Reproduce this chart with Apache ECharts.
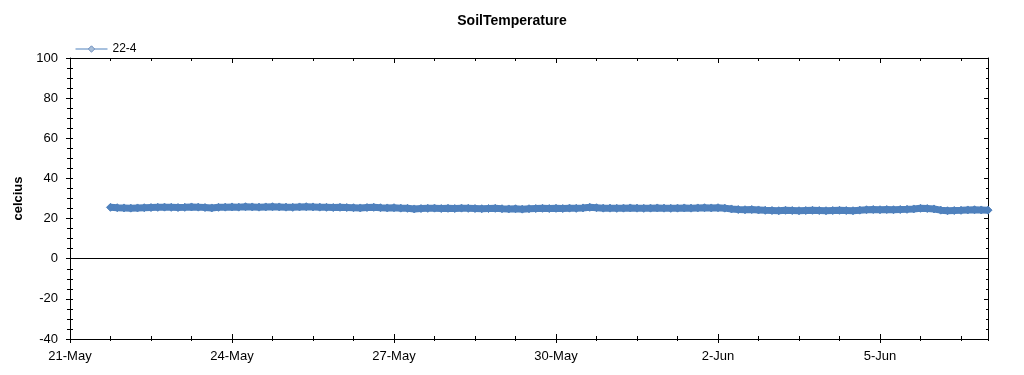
<!DOCTYPE html>
<html>
<head>
<meta charset="utf-8">
<script src="https://cdn.jsdelivr.net/npm/echarts@6/dist/echarts.min.js"></script>
<style>html,body{margin:0;padding:0;background:#fff}#c{width:1024px;height:375px}</style>
</head>
<body>
<div id="c"></div>
<script>
// ---- data ----
const titleText = 'SoilTemperature';
const seriesName = '22-4';
const yAxisName = 'celcius';
const monthNames = ['Jan','Feb','Mar','Apr','May','Jun','Jul','Aug','Sep','Oct','Nov','Dec'];
const axisStart = [2020, 4, 21];   // 21-May
const axisEnd = [2020, 5, 7];      // 7-Jun
const seriesStart = [2020, 4, 21, 18]; // first reading
const stepHours = 3;
const yTicks = [-40, -20, 0, 20, 40, 60, 80, 100];
// readings every 3 hours, 21-May 18:00 to 7-Jun 00:00
const temps = [
  25.6, 25.4,
  25.3, 25.2, 25.3, 25.4, 25.5, 25.6, 25.7, 25.6,
  25.5, 25.6, 25.8, 25.7, 25.5, 25.3, 25.6, 25.7,
  25.8, 25.7, 25.9, 25.8, 25.7, 25.8, 25.9, 25.8,
  25.7, 25.6, 25.8, 25.9, 25.8, 25.7, 25.6, 25.5,
  25.6, 25.5, 25.4, 25.3, 25.5, 25.6, 25.4, 25.3,
  25.4, 25.2, 25.1, 24.8, 25.0, 25.1, 25.2, 25.0,
  25.1, 25.0, 25.2, 25.1, 25.0, 24.9, 25.0, 25.1,
  24.9, 24.8, 24.9, 24.7, 24.9, 25.0, 25.1, 25.0,
  25.1, 25.0, 25.2, 25.1, 25.3, 25.6, 25.4, 25.2,
  25.2, 25.1, 25.2, 25.3, 25.2, 25.1, 25.2, 25.3,
  25.2, 25.1, 25.2, 25.3, 25.2, 25.3, 25.4, 25.3,
  25.4, 25.2, 24.8, 24.5, 24.4, 24.5, 24.3, 24.1,
  24.0, 23.9, 24.1, 24.0, 23.9, 24.0, 24.1, 24.0,
  23.9, 24.0, 24.1, 24.0, 23.9, 24.2, 24.4, 24.5,
  24.4, 24.5, 24.4, 24.5, 24.6, 24.8, 25.1, 25.0,
  24.8, 24.2, 23.9, 24.0, 24.1, 24.3, 24.4, 24.3,
  24.2
];

// ---- build ----
const HOUR = 3600 * 1000, DAY = 24 * HOUR;
const xMin = Date.UTC(...axisStart);
const xMax = Date.UTC(...axisEnd);
const t0 = Date.UTC(...seriesStart);
const seriesData = temps.map((v, i) => [t0 + i * stepHours * HOUR, v]);
const yMin = yTicks[0], yMax = yTicks[yTicks.length - 1];
const majorX = 3 * DAY, minorX = 0.75 * DAY;
const fmtDate = v => { const d = new Date(v); return d.getUTCDate() + '-' + monthNames[d.getUTCMonth()]; };
const FONT = '"Liberation Sans", Arial, sans-serif';
const black = '#000';

function tickX(pos, interval, inside, len, showLine) {
  return {
    type: 'value', position: pos, min: xMin, max: xMax, interval: interval,
    axisLine: { show: !!showLine, onZero: false, lineStyle: { color: black, width: 1 } },
    splitLine: { show: false }, axisLabel: { show: false },
    axisTick: { show: true, inside: inside, length: len, lineStyle: { color: black, width: 1 } },
    silent: true
  };
}
function tickY(pos, interval, inside, len, showLine) {
  return {
    type: 'value', position: pos, min: yMin, max: yMax, interval: interval,
    axisLine: { show: !!showLine, onZero: false, lineStyle: { color: black, width: 1 } },
    splitLine: { show: false }, axisLabel: { show: false },
    axisTick: { show: true, inside: inside, length: len, lineStyle: { color: black, width: 1 } },
    silent: true
  };
}

const chart = echarts.init(document.getElementById('c'));
chart.setOption({
  animation: false,
  backgroundColor: '#fff',
  textStyle: { fontFamily: FONT },
  title: {
    text: titleText, left: 'center', top: 9,
    textStyle: { fontFamily: FONT, fontSize: 14, fontWeight: 'bold', color: black }
  },
  legend: {
    left: 70, top: 38, itemWidth: 32, itemHeight: 8, itemGap: 8,
    textStyle: { fontFamily: FONT, fontSize: 12, color: black },
    lineStyle: { width: 1, color: '#4F81BD' },
    itemStyle: { color: '#A9BFD9', borderColor: '#6F8FBF', borderWidth: 1 },
    data: [seriesName]
  },
  grid: { left: 70, right: 36, top: 58, bottom: 36, containLabel: false },
  xAxis: [
    {
      type: 'value', position: 'bottom', min: xMin, max: xMax, interval: majorX,
      axisLine: { show: true, onZero: false, lineStyle: { color: black, width: 1 } },
      splitLine: { show: false },
      axisTick: { show: true, inside: false, length: 4, lineStyle: { color: black } },
      axisLabel: { show: true, formatter: fmtDate, showMaxLabel: false, margin: 11,
        fontFamily: FONT, fontSize: 13, color: black }
    },
    tickX('bottom', majorX, true, 5),
    tickX('bottom', minorX, false, 2),
    tickX('bottom', minorX, true, 3),
    tickX('top', minorX, true, 3, true),
    tickX('top', majorX, true, 5)
  ],
  yAxis: [
    {
      type: 'value', position: 'left', min: yMin, max: yMax, interval: 20,
      name: yAxisName, nameLocation: 'middle', nameGap: 45, nameRotate: 90,
      nameTextStyle: { fontFamily: FONT, fontSize: 13, fontWeight: 'bold', color: black },
      axisLine: { show: true, onZero: false, lineStyle: { color: black, width: 1 } },
      splitLine: { show: false },
      axisTick: { show: true, inside: false, length: 4, lineStyle: { color: black } },
      axisLabel: { show: true, margin: 12, fontFamily: FONT, fontSize: 13, color: black }
    },
    tickY('left', 20, true, 3),
    tickY('left', 5, false, 3),
    tickY('left', 5, true, 3),
    tickY('right', 5, true, 2, true),
    tickY('right', 20, true, 4)
  ],
  series: [{
    name: seriesName, type: 'line', xAxisIndex: 0, yAxisIndex: 0,
    data: seriesData,
    symbol: 'diamond', symbolSize: 8, showSymbol: true,
    itemStyle: { color: '#4F81BD', borderColor: '#4F81BD' },
    lineStyle: { color: '#4F81BD', width: 7 },
    clip: true,
    markLine: {
      silent: true, symbol: 'none', label: { show: false },
      lineStyle: { color: black, width: 1, type: 'solid' },
      data: [{ yAxis: 0 }]
    }
  }]
});
</script>
</body>
</html>
